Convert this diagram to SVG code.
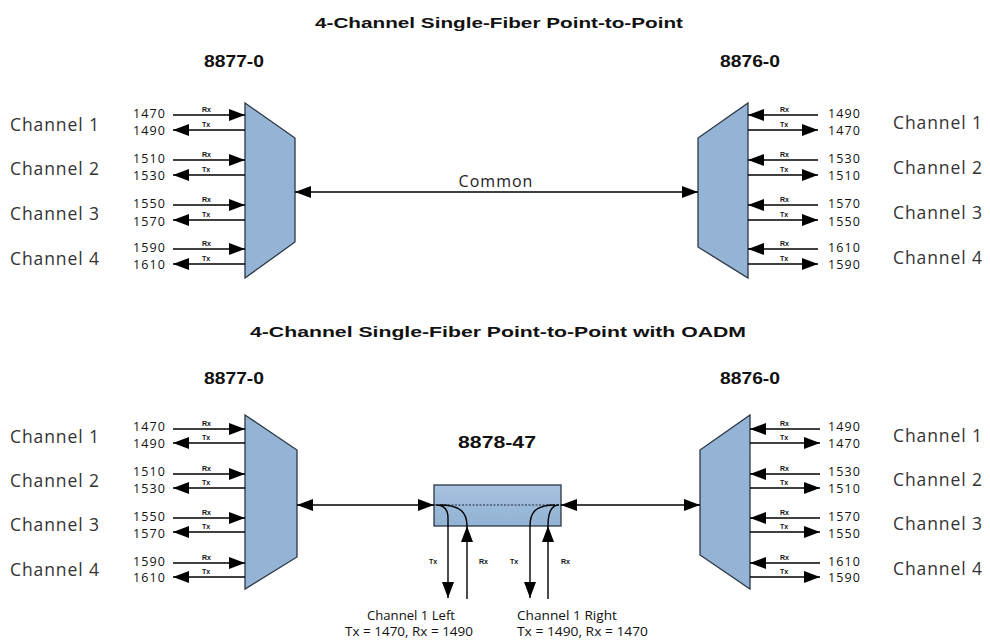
<svg xmlns="http://www.w3.org/2000/svg" width="990" height="642" viewBox="0 0 990 642">
<defs>
<marker id="ah" markerUnits="userSpaceOnUse" markerWidth="18" markerHeight="13" refX="16" refY="6" orient="auto-start-reverse"><path d="M0,0 L16,6 L0,12 z" fill="#000"/></marker>
<linearGradient id="box" x1="0" y1="0" x2="0" y2="1"><stop offset="0" stop-color="#a9c4e0"/><stop offset="0.5" stop-color="#9bb9d8"/><stop offset="1" stop-color="#93b3d4"/></linearGradient>
<style>
.ln{stroke:#000;stroke-width:1.4;fill:none}
.ar{stroke:#000;stroke-width:1.4;fill:none;marker-end:url(#ah)}
.da{stroke:#000;stroke-width:1.4;fill:none;marker-end:url(#ah);marker-start:url(#ah)}
.mux{fill:#95b4d5;stroke:#2a3644;stroke-width:1.3}
.ttl{font-family:"Liberation Sans",Arial,sans-serif;font-weight:bold;font-size:15px;fill:#111}
.dev{font-family:"Liberation Sans",Arial,sans-serif;font-weight:bold;font-size:16px;fill:#111}
.ch{font-family:"Open Sans","DejaVu Sans",sans-serif;font-size:17.5px;fill:#333;letter-spacing:0.9px}
.num{font-family:"Open Sans","DejaVu Sans",sans-serif;font-size:12.5px;fill:#111}
.tiny{font-family:"Liberation Sans",Arial,sans-serif;font-size:7px;font-weight:bold;fill:#111}
.cm{font-family:"Open Sans","DejaVu Sans",sans-serif;font-size:16px;fill:#222;letter-spacing:1px}
.sm{font-family:"Open Sans","DejaVu Sans",sans-serif;font-size:12.5px;fill:#111}
</style>
</defs>
<rect width="990" height="642" fill="#fff"/>

<g id="titles">
<text class="ttl" x="499" y="28" text-anchor="middle" textLength="368" lengthAdjust="spacingAndGlyphs">4-Channel Single-Fiber Point-to-Point</text>
<text class="ttl" x="498" y="337" text-anchor="middle" textLength="496" lengthAdjust="spacingAndGlyphs">4-Channel Single-Fiber Point-to-Point with OADM</text>
</g>

<!-- TOP SECTION -->
<g id="mux-8877-top">
<text class="dev" x="234" y="67" text-anchor="middle" textLength="60" lengthAdjust="spacingAndGlyphs">8877-0</text>
<polygon class="mux" points="245,103 295,138 295,242 245,278"/>
</g>
<g id="mux-8876-top">
<text class="dev" x="750" y="67" text-anchor="middle" textLength="60" lengthAdjust="spacingAndGlyphs">8876-0</text>
<polygon class="mux" points="748,103 748,278 698,247 698,138"/>
</g>

<g id="labels-left-top">
<text class="ch" x="10" y="131">Channel 1</text>
<text class="ch" x="10" y="175">Channel 2</text>
<text class="ch" x="10" y="220">Channel 3</text>
<text class="ch" x="10" y="265">Channel 4</text>
<text class="num" x="133" y="118" textLength="32">1470</text><text class="num" x="133" y="135" textLength="32">1490</text>
<text class="num" x="133" y="163" textLength="32">1510</text><text class="num" x="133" y="180" textLength="32">1530</text>
<text class="num" x="133" y="208" textLength="32">1550</text><text class="num" x="133" y="226" textLength="32">1570</text>
<text class="num" x="133" y="252" textLength="32">1590</text><text class="num" x="133" y="269" textLength="32">1610</text>
<text class="tiny" x="202" y="112">Rx</text><text class="tiny" x="202" y="127">Tx</text>
<text class="tiny" x="202" y="157">Rx</text><text class="tiny" x="202" y="172">Tx</text>
<text class="tiny" x="202" y="202">Rx</text><text class="tiny" x="202" y="217">Tx</text>
<text class="tiny" x="202" y="246">Rx</text><text class="tiny" x="202" y="261">Tx</text>
</g>
<g id="labels-right-top">
<text class="ch" x="893" y="129">Channel 1</text>
<text class="ch" x="893" y="174">Channel 2</text>
<text class="ch" x="893" y="219">Channel 3</text>
<text class="ch" x="893" y="264">Channel 4</text>
<text class="num" x="828" y="118" textLength="32">1490</text><text class="num" x="828" y="135" textLength="32">1470</text>
<text class="num" x="828" y="163" textLength="32">1530</text><text class="num" x="828" y="180" textLength="32">1510</text>
<text class="num" x="828" y="208" textLength="32">1570</text><text class="num" x="828" y="226" textLength="32">1550</text>
<text class="num" x="828" y="252" textLength="32">1610</text><text class="num" x="828" y="269" textLength="32">1590</text>
<text class="tiny" x="780" y="112">Rx</text><text class="tiny" x="780" y="127">Tx</text>
<text class="tiny" x="780" y="157">Rx</text><text class="tiny" x="780" y="172">Tx</text>
<text class="tiny" x="780" y="202">Rx</text><text class="tiny" x="780" y="217">Tx</text>
<text class="tiny" x="780" y="246">Rx</text><text class="tiny" x="780" y="261">Tx</text>
</g>

<!-- BOTTOM SECTION -->
<g id="mux-8877-bottom">
<text class="dev" x="234" y="384" text-anchor="middle" textLength="60" lengthAdjust="spacingAndGlyphs">8877-0</text>
<polygon class="mux" points="245,415 297,450 297,557 245,589"/>
</g>
<g id="mux-8876-bottom">
<text class="dev" x="750" y="384" text-anchor="middle" textLength="60" lengthAdjust="spacingAndGlyphs">8876-0</text>
<polygon class="mux" points="750,415 750,589 700,555 700,450"/>
</g>
<g id="oadm-8878-47">
<text class="dev" x="497" y="448" text-anchor="middle" textLength="78" lengthAdjust="spacingAndGlyphs">8878-47</text>
<rect x="434" y="485" width="127" height="41" fill="url(#box)" stroke="#2a3644" stroke-width="1.3"/>
<line x1="434" y1="505" x2="561" y2="505" stroke="#1d2a38" stroke-width="1.2" stroke-dasharray="2,1.5"/>
<path class="ln" d="M436,505 Q448,505 448,518" stroke="#1d2a38"/>
<path class="ln" d="M440,505 C462,505 467,514 467,526" stroke="#1d2a38"/>
<path class="ln" d="M559,505 Q548,505 548,526" stroke="#1d2a38"/>
<path class="ln" d="M555,505 C534,505 530,514 530,526" stroke="#1d2a38"/>
</g>

<g id="labels-left-bottom">
<text class="ch" x="10" y="443">Channel 1</text>
<text class="ch" x="10" y="487">Channel 2</text>
<text class="ch" x="10" y="531">Channel 3</text>
<text class="ch" x="10" y="576">Channel 4</text>
<text class="num" x="133" y="431" textLength="32">1470</text><text class="num" x="133" y="448" textLength="32">1490</text>
<text class="num" x="133" y="476" textLength="32">1510</text><text class="num" x="133" y="493" textLength="32">1530</text>
<text class="num" x="133" y="521" textLength="32">1550</text><text class="num" x="133" y="538" textLength="32">1570</text>
<text class="num" x="133" y="566" textLength="32">1590</text><text class="num" x="133" y="582" textLength="32">1610</text>
<text class="tiny" x="202" y="426">Rx</text><text class="tiny" x="202" y="440">Tx</text>
<text class="tiny" x="202" y="471">Rx</text><text class="tiny" x="202" y="485">Tx</text>
<text class="tiny" x="202" y="515">Rx</text><text class="tiny" x="202" y="529">Tx</text>
<text class="tiny" x="202" y="560">Rx</text><text class="tiny" x="202" y="574">Tx</text>
</g>
<g id="labels-right-bottom">
<text class="ch" x="893" y="442">Channel 1</text>
<text class="ch" x="893" y="486">Channel 2</text>
<text class="ch" x="893" y="530">Channel 3</text>
<text class="ch" x="893" y="575">Channel 4</text>
<text class="num" x="828" y="431" textLength="32">1490</text><text class="num" x="828" y="448" textLength="32">1470</text>
<text class="num" x="828" y="476" textLength="32">1530</text><text class="num" x="828" y="493" textLength="32">1510</text>
<text class="num" x="828" y="521" textLength="32">1570</text><text class="num" x="828" y="538" textLength="32">1550</text>
<text class="num" x="828" y="566" textLength="32">1610</text><text class="num" x="828" y="582" textLength="32">1590</text>
<text class="tiny" x="780" y="426">Rx</text><text class="tiny" x="780" y="440">Tx</text>
<text class="tiny" x="780" y="471">Rx</text><text class="tiny" x="780" y="485">Tx</text>
<text class="tiny" x="780" y="515">Rx</text><text class="tiny" x="780" y="529">Tx</text>
<text class="tiny" x="780" y="560">Rx</text><text class="tiny" x="780" y="574">Tx</text>
</g>

<g id="drop-labels">
<text class="tiny" x="429" y="564">Tx</text>
<text class="tiny" x="479" y="564">Rx</text>
<text class="tiny" x="510" y="564">Tx</text>
<text class="tiny" x="561" y="564">Rx</text>
<text class="sm" x="367" y="620" textLength="88" lengthAdjust="spacingAndGlyphs">Channel 1 Left</text>
<text class="sm" x="345" y="636" textLength="128" lengthAdjust="spacingAndGlyphs">Tx = 1470, Rx = 1490</text>
<text class="sm" x="517" y="620" textLength="100" lengthAdjust="spacingAndGlyphs">Channel 1 Right</text>
<text class="sm" x="517" y="636" textLength="131" lengthAdjust="spacingAndGlyphs">Tx = 1490, Rx = 1470</text>
</g>

<g id="connectors">
<!-- top left -->
<line class="ar" x1="173" y1="115" x2="245" y2="115"/><line class="ar" x1="245" y1="130" x2="173" y2="130"/>
<line class="ar" x1="173" y1="160" x2="245" y2="160"/><line class="ar" x1="245" y1="175" x2="173" y2="175"/>
<line class="ar" x1="173" y1="205" x2="245" y2="205"/><line class="ar" x1="245" y1="220" x2="173" y2="220"/>
<line class="ar" x1="173" y1="249" x2="245" y2="249"/><line class="ar" x1="245" y1="264" x2="173" y2="264"/>
<!-- top right -->
<line class="ar" x1="818" y1="115" x2="748" y2="115"/><line class="ar" x1="748" y1="130" x2="818" y2="130"/>
<line class="ar" x1="818" y1="160" x2="748" y2="160"/><line class="ar" x1="748" y1="175" x2="818" y2="175"/>
<line class="ar" x1="818" y1="205" x2="748" y2="205"/><line class="ar" x1="748" y1="220" x2="818" y2="220"/>
<line class="ar" x1="818" y1="249" x2="748" y2="249"/><line class="ar" x1="748" y1="264" x2="818" y2="264"/>
<!-- common -->
<line class="da" x1="295" y1="192" x2="698" y2="192"/>
<text class="cm" x="496" y="187" text-anchor="middle">Common</text>
<!-- bottom left -->
<line class="ar" x1="173" y1="429" x2="245" y2="429"/><line class="ar" x1="245" y1="443" x2="173" y2="443"/>
<line class="ar" x1="173" y1="474" x2="245" y2="474"/><line class="ar" x1="245" y1="488" x2="173" y2="488"/>
<line class="ar" x1="173" y1="518" x2="245" y2="518"/><line class="ar" x1="245" y1="532" x2="173" y2="532"/>
<line class="ar" x1="173" y1="563" x2="245" y2="563"/><line class="ar" x1="245" y1="577" x2="173" y2="577"/>
<!-- bottom right -->
<line class="ar" x1="820" y1="429" x2="750" y2="429"/><line class="ar" x1="750" y1="443" x2="820" y2="443"/>
<line class="ar" x1="820" y1="474" x2="750" y2="474"/><line class="ar" x1="750" y1="488" x2="820" y2="488"/>
<line class="ar" x1="820" y1="518" x2="750" y2="518"/><line class="ar" x1="750" y1="532" x2="820" y2="532"/>
<line class="ar" x1="820" y1="563" x2="750" y2="563"/><line class="ar" x1="750" y1="577" x2="820" y2="577"/>
<!-- mux to oadm -->
<line class="da" x1="297" y1="505" x2="434" y2="505"/>
<line class="da" x1="561" y1="505" x2="700" y2="505"/>
<!-- drops -->
<line class="ar" x1="448" y1="518" x2="448" y2="598"/>
<line class="ar" x1="467" y1="599" x2="467" y2="526"/>
<line class="ar" x1="530" y1="526" x2="530" y2="598"/>
<line class="ar" x1="548" y1="599" x2="548" y2="526"/>
</g>
</svg>
